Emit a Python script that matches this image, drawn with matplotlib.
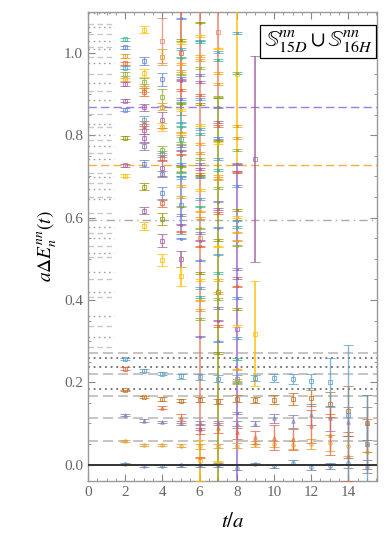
import numpy as np
import matplotlib
matplotlib.use("Agg")
import matplotlib.pyplot as plt

plt.rcParams['font.family'] = ['Liberation Serif', 'DejaVu Serif']
plt.rcParams['mathtext.fontset'] = 'stix'

# mathematica-ish palette
pal = {'blue': '#5E81B5', 'orange': '#E19C24', 'green': '#8FB032', 'red': '#EB6235',
       'purple': '#8778B3', 'brown': '#C56E1A', 'lblue': '#5D9EC7', 'yellow': '#FFBF00',
       'magenta': '#A5609D', 'olive': '#929600', 'blue2': '#6685D9', 'orange2': '#F89F13',
       'teal': '#3FB58C', 'salmon': '#E8806A', 'violet': '#9F5FD0'}
cycle = ['orange', 'green', 'purple', 'magenta', 'red', 'blue2', 'olive', 'yellow', 'lblue', 'teal', 'orange2']

# ---- low lying levels, t = 2..15
t_low = np.arange(2, 16)
lvl0 = [0.001, -0.004, -0.004, -0.002, -0.002, -0.002, -0.008, 0.001, -0.004, 0.004, -0.006, -0.004, 0.003, -0.005]
lvl0_err = [0.002, 0.003, 0.003, 0.003, 0.004, 0.005, 0.006, 0.003, 0.004, 0.006, 0.008, 0.008, 0.012, 0.015]
lvl1 = [0.057, 0.048, 0.048, 0.046, 0.044, 0.046, 0.046, 0.050, 0.050, 0.048, 0.049, 0.053, 0.045, 0.030]
lvl1_err = [0.002, 0.003, 0.003, 0.004, 0.006, 0.005, 0.006, 0.007, 0.008, 0.010, 0.012, 0.020, 0.025, 0.030]
lvl2 = [0.121, 0.107, 0.104, 0.101, 0.101, 0.101, 0.098, 0.099, 0.112, 0.105, 0.121, 0.112, 0.104, 0.100]
lvl2_err = [0.002, 0.003, 0.003, 0.004, 0.005, 0.006, 0.008, 0.006, 0.010, 0.015, 0.025, 0.030, 0.035, 0.040]
lvl4 = [0.180, 0.164, 0.159, 0.155, 0.158, 0.154, 0.160, 0.156, 0.158, 0.160, 0.162, 0.146, 0.130, 0.100]
lvl4_err = [0.002, 0.003, 0.004, 0.004, 0.005, 0.006, 0.008, 0.007, 0.010, 0.015, 0.020, 0.030, 0.060, 0.070]
lvl5 = [0.257, 0.228, 0.221, 0.214, 0.213, 0.209, 0.208, 0.210, 0.210, 0.208, 0.202, 0.200, 0.120, 0.050]
lvl5_err = [0.003, 0.004, 0.004, 0.005, 0.008, 0.008, 0.010, 0.008, 0.010, 0.013, 0.017, 0.060, 0.170, 0.120]
t_red = np.arange(4, 16)
lvl3 = [0.138, 0.112, 0.087, 0.088, 0.078, 0.066, 0.065, 0.061, 0.093, 0.073, 0.020, 0.050]
lvl3_err = [0.004, 0.010, 0.012, 0.012, 0.015, 0.015, 0.030, 0.025, 0.040, 0.050, 0.060, 0.060]

# ---- higher levels, per time slice
t2_vals = [1.033, 1.014, 0.993, 0.975, 0.964, 0.949, 0.936, 0.925, 0.884, 0.862, 0.794, 0.727, 0.702, 0.233]
t2_cols = ['teal', 'blue2', 'orange', 'red', 'lblue', 'green', 'orange2', 'magenta', 'magenta', 'blue2',
           'olive', 'magenta', 'yellow', 'red']
t3_vals = [1.057, 0.981, 0.951, 0.930, 0.915, 0.905, 0.868, 0.837, 0.825, 0.813, 0.793, 0.773, 0.731,
           0.675, 0.617, 0.580]
t3_cols = ['yellow', 'blue2', 'yellow', 'green', 'orange', 'red', 'magenta', 'lblue', 'red', 'magenta',
           'magenta', 'purple', 'blue2', 'olive', 'magenta', 'yellow']
t4_vals = [1.030, 0.990, 0.936, 0.892, 0.870, 0.837, 0.821, 0.765, 0.755, 0.745, 0.720, 0.706, 0.659,
           0.636, 0.597, 0.544, 0.497]
t4_errs = [0.055, 0.020, 0.015, 0.020, 0.008, 0.020, 0.010, 0.008, 0.008, 0.008, 0.020, 0.008, 0.015,
           0.010, 0.015, 0.015, 0.015]
t4_cols = ['salmon', 'orange', 'blue2', 'green', 'orange', 'magenta', 'yellow', 'green', 'lblue', 'red',
           'magenta', 'purple', 'blue2', 'red', 'olive', 'magenta', 'yellow']

t5_ticks = [1.084, 1.032, 1.025, 1.009, 0.989, 0.973, 0.956, 0.948, 0.939, 0.933, 0.910, 0.888, 0.877,
            0.862, 0.831, 0.821, 0.807, 0.799, 0.782, 0.774, 0.763, 0.753, 0.731, 0.724, 0.712, 0.697,
            0.710, 0.677, 0.650, 0.627, 0.607, 0.583, 0.566, 0.549]
t6_ticks = [1.074, 1.041, 1.030, 1.026, 0.993, 0.983, 0.964, 0.947, 0.930, 0.898, 0.888, 0.876, 0.825,
            0.816, 0.803, 0.779, 0.757, 0.743, 0.731, 0.718, 0.706, 0.698, 0.701, 0.667, 0.645, 0.627,
            0.615, 0.599, 0.574, 0.562, 0.544, 0.530, 0.496, 0.465, 0.449, 0.429, 0.407, 0.399, 0.376,
            0.354, 0.311, 0.087, 0.017]
t7_ticks = [1.011, 1.003, 0.983, 0.951, 0.925, 0.894, 0.868, 0.833, 0.823, 0.793, 0.787, 0.781, 0.742,
            0.716, 0.701, 0.693, 0.672, 0.639, 0.621, 0.612, 0.576, 0.546, 0.530, 0.510, 0.465, 0.449,
            0.417, 0.403, 0.380, 0.350, 0.336, 0.299, 0.271, 0.007]
t8_ticks = [1.049, 0.952, 0.823, 0.793, 0.765, 0.731, 0.711, 0.712, 0.677, 0.619, 0.601, 0.593, 0.577,
            0.564, 0.544, 0.532, 0.475, 0.453, 0.433, 0.405, 0.378, 0.336, 0.307, 0.256, 0.231, 0.206,
            0.198, 0.125]

# big error bars (t, value, error, colour)
big_t = [5, 5, 5, 5, 5, 6, 6, 7, 7, 8, 8, 9, 9]
big_v = [1.000, 0.790, 0.630, 0.499, 0.457, 0.550, 0.010, 1.050, 0.420, 0.950, 0.330, 0.742, 0.318]
big_e = [0.150, 0.090, 0.070, 0.020, 0.022, 0.600, 0.050, 0.160, 0.470, 0.220, 0.400, 0.250, 0.127]
big_c = ['red', 'teal', 'blue2', 'magenta', 'yellow', 'salmon', 'yellow', 'salmon', 'olive', 'yellow',
         'violet', 'magenta', 'yellow']

# reference lines
full_lines = [0.868, 0.727, 0.595, 0.271, 0.259, 0.236, 0.220, 0.184, 0.166, 0.112, 0.058]
full_kind = ['purple', 'orange', 'dashdot', 'dash', 'dot', 'dot', 'dash', 'dot', 'dash', 'dash', 'dash']
short_lines = [1.097, 1.070, 1.063, 1.046, 1.029, 1.015, 1.010, 0.990, 0.976, 0.949, 0.927, 0.908, 0.886,
               0.852, 0.828, 0.820, 0.801, 0.789, 0.774, 0.757, 0.743, 0.709, 0.699, 0.684, 0.670, 0.650,
               0.646, 0.612, 0.578, 0.563, 0.551, 0.532, 0.515, 0.505, 0.468, 0.451, 0.420, 0.408, 0.360,
               0.337, 0.311, 0.286]

fig = plt.figure(figsize=(3.9, 5.39), dpi=100)
ax = fig.add_axes([0.2256, 0.1076, 0.7414, 0.8704])


def eb(t, v, e, c, ms=2.5, mk='s', lw=1.0):
    ax.errorbar([t], [v], yerr=[e], fmt=mk, color=c, ms=ms, mfc='none', mew=0.7,
                elinewidth=lw, capsize=3.5, capthick=1.1, alpha=0.75, zorder=3)


# full width lines
for y, k in zip(full_lines, full_kind):
    if k == 'purple':
        ax.axhline(y, color='#A07AE6', ls=(0, (6, 3)), lw=1.0, zorder=2)
    elif k == 'orange':
        ax.axhline(y, color='#F2B13C', ls=(0, (6, 3)), lw=1.0, zorder=2)
    elif k == 'dashdot':
        ax.axhline(y, color='#AAAAAA', ls=(0, (6, 3, 1, 3)), lw=1.0, zorder=2)
    elif k == 'dash':
        ax.axhline(y, color='#BBBBBB', ls=(0, (6, 3)), lw=1.2, zorder=2)
    else:
        ax.axhline(y, color='#555555', ls=(0, (1.2, 2.5)), lw=1.1, zorder=2)
ax.axhline(0.0, color='#333333', lw=1.4, zorder=4)

for i, y in enumerate(short_lines):
    if i % 2 == 0:
        ax.plot([0, 1.4], [y, y], color='#A0A0A0', ls=(0, (1.2, 2.5)), lw=1.0, zorder=2)
    else:
        ax.plot([0, 1.4], [y, y], color='#C8C8C8', ls=(0, (4, 2.5)), lw=1.0, zorder=2)

# big bars first
for t, v, e, c in zip(big_t, big_v, big_e, big_c):
    eb(t, v, e, pal[c], lw=1.4)

# low levels
for t, v, e in zip(t_low, lvl0, lvl0_err):
    eb(t, v, e, pal['blue'], mk='o')
for t, v, e in zip(t_low, lvl1, lvl1_err):
    eb(t, v, e, pal['orange'], mk='o')
for t, v, e in zip(t_low, lvl2, lvl2_err):
    eb(t, v, e, pal['purple'], mk='^')
for t, v, e in zip(t_red, lvl3, lvl3_err):
    eb(t, v, e, pal['red'], mk='^')
for t, v, e in zip(t_low, lvl4, lvl4_err):
    eb(t, v, e, pal['brown'], mk='s')
for t, v, e in zip(t_low, lvl5, lvl5_err):
    eb(t, v, e, pal['lblue'], mk='s')

# higher levels
for v, c in zip(t2_vals, t2_cols):
    eb(2, v, 0.004, pal[c])
for v, c in zip(t3_vals, t3_cols):
    eb(3, v, 0.009, pal[c])
for v, e, c in zip(t4_vals, t4_errs, t4_cols):
    eb(4, v, e, pal[c])
for t, ticks in zip([5, 6, 7, 8], [t5_ticks, t6_ticks, t7_ticks, t8_ticks]):
    for i, v in enumerate(ticks):
        eb(t, v, 0.002, pal[cycle[(i + t) % len(cycle)]], ms=2)

# axes styling
ax.set_xlim(0, 15.55)
ax.set_ylim(-0.04, 1.1)
ax.set_xticks(np.arange(0, 15, 2))
ax.xaxis.set_minor_locator(matplotlib.ticker.MultipleLocator(0.5))
ax.set_yticks(np.arange(0, 1.01, 0.2))
ax.set_yticklabels(['0.0', '0.2', '0.4', '0.6', '0.8', '1.0'])
ax.yaxis.set_minor_locator(matplotlib.ticker.MultipleLocator(0.05))
ax.tick_params(which='both', direction='in', top=True, right=True, colors='#888888',
               labelcolor='#666666', labelsize=11)
ax.tick_params(which='major', length=5, width=0.8)
ax.tick_params(which='minor', length=2.5, width=0.6)
for s in ax.spines.values():
    s.set_color('#999999')
    s.set_linewidth(1.0)

ax.set_xlabel('$t/a$', fontsize=15, labelpad=10)
ax.set_ylabel(r'$a\Delta E_n^{nn}(t)$', fontsize=14, labelpad=4)

ax.text(0.985, 0.965, r'$\mathbb{S}^{nn}_{15D}\cup\mathbb{S}^{nn}_{16H}$', transform=ax.transAxes,
        ha='right', va='top', fontsize=16.5, zorder=6,
        bbox=dict(boxstyle='square,pad=0.15', fc='white', ec='black', lw=0.9))

fig.savefig('out.png', dpi=100)
